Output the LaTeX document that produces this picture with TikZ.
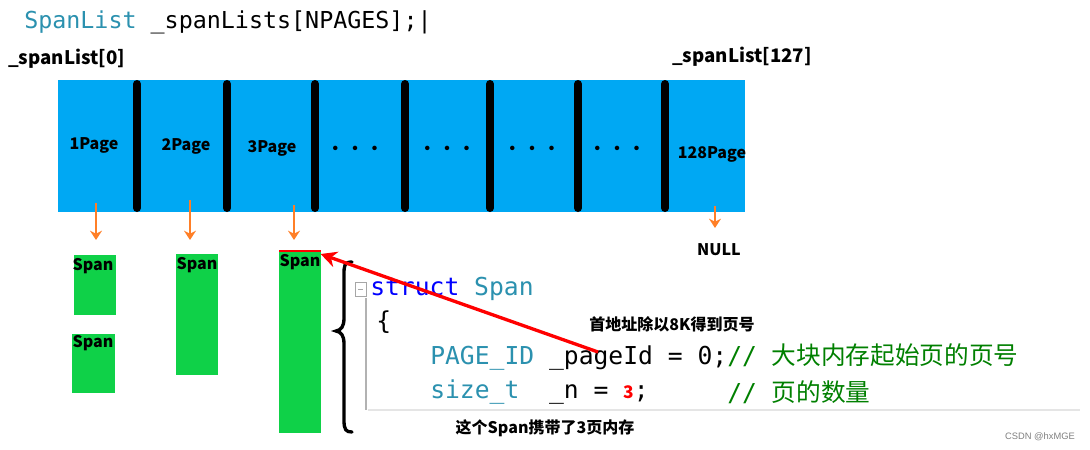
\documentclass[tikz,border=0pt]{standalone}
\usepackage{fontspec}
\setmainfont{Liberation Sans}
\setmonofont{DejaVu Sans Mono}
\newfontfamily\cjk{Noto Sans CJK SC}
\usetikzlibrary{arrows.meta}
\definecolor{skyb}{HTML}{00A8F3}
\definecolor{grn}{HTML}{0FD148}
\definecolor{teal2}{HTML}{2B91AF}
\definecolor{cgreen}{HTML}{008000}
\definecolor{org}{HTML}{FF7F27}
\tikzset{
 lbl/.style={font=\cjk\bfseries\fontsize{12}{14}\selectfont, inner sep=0pt},
 sep/.style={line width=6pt, line cap=round},
 oarr/.style={org, line width=2.2pt, -{Stealth[length=7pt,width=9pt]}},
 spanbox/.style={fill=grn, draw=none},
 code/.style={font=\ttfamily\fontsize{18.5}{20}\selectfont, inner sep=0pt, anchor=west},
}
\begin{document}
\begin{tikzpicture}[x=0.75pt,y=-0.75pt]
\useasboundingbox (0,0) rectangle (1090,450);
\fill[white] (0,0) rectangle (1090,450);
% top
\node[code, font=\ttfamily\fontsize{17.5}{20}\selectfont] (decl) at (24,22) {\textcolor{teal2}{SpanList} \_spanLists[NPAGES];|};
\node[lbl, font=\cjk\bfseries\fontsize{14}{16}\selectfont, anchor=west] (l0) at (8,59) {\_spanList[0]};
\node[lbl, font=\cjk\bfseries\fontsize{14}{16}\selectfont, anchor=west] (l127) at (672,57) {\_spanList[127]};
% blue array
\fill[skyb] (58,80) rectangle (745,212);
\foreach \x in {137,227,315,405,490,578,665}{\draw[sep] (\x,84) -- (\x,208);}
\node[lbl] (p1) at (94,145) {1Page};
\node[lbl] (p2) at (186,146) {2Page};
\node[lbl] (p3) at (272,148) {3Page};
\foreach \x/\n in {355/d1,447/d2,532/d3,617/d4}{\node[lbl] (\n) at (\x,150) {· · ·};}
\node[lbl] (p128) at (712,154) {128Page};
% orange arrows
\coordinate (a1) at (96,203); \coordinate (b1) at (96,240);
\coordinate (a2) at (190,200); \coordinate (b2) at (190,240);
\coordinate (a3) at (294,205); \coordinate (b3) at (294,240);
\coordinate (a4) at (715,206); \coordinate (b4) at (715,228);
\foreach \i in {1,2,3,4}{\draw[oarr] (a\i) -- (b\i);}
\node[lbl] (null) at (719,250) {NULL};
% spans
\fill[spanbox] (74,255) rectangle (116,315);
\fill[spanbox] (72,334) rectangle (115,393);
\fill[spanbox] (176,254) rectangle (218,375);
\fill[spanbox] (279,252) rectangle (321,433);
\draw[red, line width=1.5pt] (279,251) -- (321,251);
\node[lbl] (s1) at (93,266) {Span};
\node[lbl] (s2) at (93,343) {Span};
\node[lbl] (s3) at (197,265) {Span};
\node[lbl] (s4) at (300,262) {Span};
% brace
\draw[line width=2.5pt, line cap=round] (352,262) .. controls (344,262) and (344,266) .. (344,275)
 -- (344,318) .. controls (344,327) and (341,330) .. (336,331)
 .. controls (341,332) and (344,335) .. (344,344) -- (344,420)
 .. controls (344,430) and (346,432) .. (352,432);
% code
\draw[gray!70, line width=0.6pt] (355,282) rectangle (366,296);
\draw[gray!70, line width=0.6pt] (358,289) -- (363,289);
\draw[gray!60, line width=0.8pt] (366,298) -- (366,410);
\draw[gray!20, line width=2pt] (368,410) -- (1080,410);
\node[code] (c1) at (370,289) {\textcolor{blue}{struct} \textcolor{teal2}{Span}};
\node[code] (c2) at (376,322) {\{};
\node[code] (c3) at (430,357) {\textcolor{teal2}{PAGE\_ID} \_pageId = 0;\textcolor{cgreen}{// {\cjk 大块内存起始页的页号}}};
\node[code] (c4) at (430,392) {\textcolor{teal2}{size\_t}\ \ \_n = \textcolor{red}{\cjk\bfseries\fontsize{13}{14}\selectfont 3};};
\node[code] (c5) at (727,392) {\textcolor{cgreen}{// {\cjk 页的数量}}};
\node[lbl] (t1) at (672,324) {首地址除以8K得到页号};
\node[lbl] (t2) at (545,428) {这个Span携带了3页内存};
\node[font=\fontsize{7}{8}\selectfont, text=gray, inner sep=0pt] (wm) at (1040,437) {CSDN @hxMGE};
\coordinate (rs) at (598,352);
\draw[red, line width=2.5pt, -{Stealth[length=12pt,width=12pt]}] (rs) -- (s4.north east);
\end{tikzpicture}
\end{document}
